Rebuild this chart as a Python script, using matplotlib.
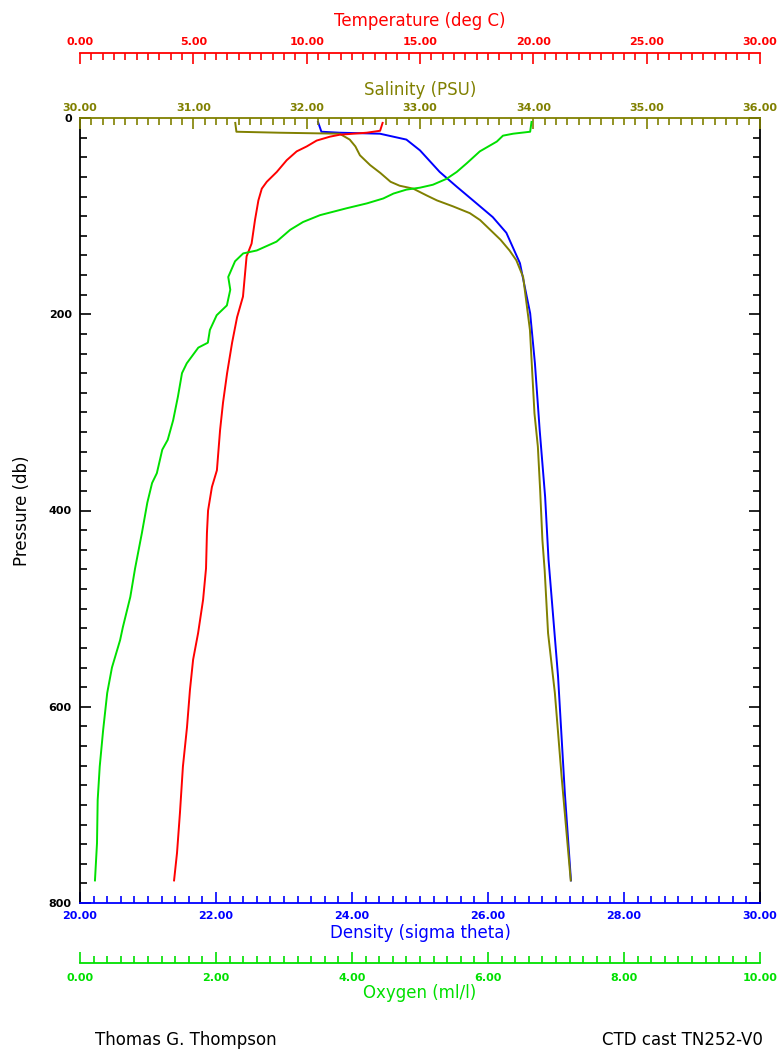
import matplotlib
matplotlib.use("Agg")
import matplotlib.pyplot as plt
from matplotlib.ticker import MultipleLocator, FormatStrFormatter

# Couleurs des traces
ROUGE = "#ff0000"
OLIVE = "#808000"
BLEU = "#0000ff"
VERT = "#00e000"

# ---------------------------------------------------------------
# Donnees lues sur le profil CTD (pression en db)
# ---------------------------------------------------------------
p_temp = [5, 13, 15, 17, 19, 23, 29, 34, 43, 55, 65, 72, 84, 104, 128, 141,
          182, 203, 229, 260, 290, 318, 359, 376, 400, 423, 459, 491, 525,
          552, 583, 621, 661, 708, 749, 777]
temperature = [13.35, 13.24, 12.65, 11.47, 11.03, 10.44, 10.0, 9.56, 9.12, 8.68,
               8.24, 8.02, 7.87, 7.72, 7.57, 7.35, 7.19, 6.93, 6.71, 6.49, 6.31,
               6.18, 6.04, 5.82, 5.65, 5.60, 5.56, 5.43, 5.21, 4.99, 4.85, 4.72,
               4.54, 4.41, 4.28, 4.15]

p_sal = [5, 14, 15, 16, 18, 22, 29, 38, 48, 56, 65, 69, 72, 79, 84, 90, 97,
         104, 114, 124, 135, 145, 162, 216, 301, 335, 379, 430, 461, 525, 586,
         672, 777]
salinite = [31.37, 31.38, 31.76, 32.29, 32.32, 32.38, 32.43, 32.47, 32.56, 32.65,
            32.74, 32.82, 32.94, 33.06, 33.15, 33.29, 33.44, 33.53, 33.62, 33.71,
            33.79, 33.85, 33.91, 33.97, 34.01, 34.04, 34.06, 34.08, 34.10, 34.13,
            34.19, 34.25, 34.33]

p_dens = [4, 14, 15, 16, 22, 33, 55, 70, 84, 101, 117, 148, 199, 250, 318,
          386, 450, 569, 688, 777]
densite = [23.50, 23.55, 23.82, 24.41, 24.80, 25.00, 25.29, 25.54, 25.78, 26.07,
           26.27, 26.47, 26.62, 26.69, 26.76, 26.84, 26.89, 27.03, 27.13, 27.22]

p_oxy = [4, 14, 16, 18, 24, 34, 46, 55, 62, 68, 71, 73, 77, 82, 87, 92, 99,
         106, 114, 126, 135, 138, 146, 162, 175, 191, 201, 216, 229, 234, 250,
         260, 284, 308, 328, 338, 362, 372, 392, 423, 459, 488, 519, 532, 560,
         586, 624, 661, 695, 739, 777]
oxygene = [6.64, 6.62, 6.37, 6.22, 6.13, 5.88, 5.69, 5.54, 5.39, 5.19, 5.00,
           4.80, 4.61, 4.46, 4.22, 3.92, 3.53, 3.28, 3.09, 2.89, 2.60, 2.40,
           2.28, 2.18, 2.21, 2.16, 2.01, 1.91, 1.88, 1.74, 1.57, 1.50, 1.44,
           1.37, 1.29, 1.21, 1.13, 1.06, 0.99, 0.91, 0.81, 0.74, 0.63, 0.59,
           0.47, 0.40, 0.34, 0.29, 0.26, 0.25, 0.22]

# ---------------------------------------------------------------
# Mise en page (en pixels de l'image 779 x 1054)
# ---------------------------------------------------------------
W, H = 779, 1054
x_g, x_d = 80, 760
y_haut, y_bas = 118, 903
haut_px = y_bas - y_haut

fig = plt.figure(figsize=(W / 100, H / 100), dpi=100)
ax_d = fig.add_axes([x_g / W, 1 - y_bas / H, (x_d - x_g) / W, haut_px / H])
ax_s = ax_d.twiny()
ax_t = ax_d.twiny()
ax_o = ax_d.twiny()


def frac_y(y_px):
    return (y_bas - y_px) / haut_px


def regler_axe(ax, couleur, lim, maj, mineur, cote, position, pad, titre, y_titre):
    for nom, sp in ax.spines.items():
        sp.set_visible(False)
    sp = ax.spines[cote]
    sp.set_visible(True)
    sp.set_color(couleur)
    sp.set_linewidth(1.3)
    sp.set_position(("axes", position))
    ax.xaxis.set_ticks_position(cote)
    ax.xaxis.set_label_position(cote)
    ax.set_xlim(*lim)
    ax.xaxis.set_major_locator(MultipleLocator(maj))
    ax.xaxis.set_minor_locator(MultipleLocator(mineur))
    ax.xaxis.set_major_formatter(FormatStrFormatter("%.2f"))
    ax.tick_params(axis="x", which="both", direction="in", color=couleur,
                   labelcolor=couleur, width=1.2, pad=pad)
    ax.tick_params(axis="x", which="major", length=8, labelsize=8)
    ax.tick_params(axis="x", which="minor", length=5)
    for lab in ax.get_xticklabels():
        lab.set_fontweight("bold")
    ax.set_xlabel(titre, color=couleur, fontsize=12)
    ax.xaxis.set_label_coords(0.5, frac_y(y_titre))
    ax.xaxis.label.set_verticalalignment("center")
    ax.patch.set_visible(False)


regler_axe(ax_d, BLEU, (20, 30), 2, 0.2, "bottom", 0.0, 6,
           "Density (sigma theta)", 933)
regler_axe(ax_o, VERT, (0, 10), 2, 0.2, "bottom", frac_y(963), 7,
           "Oxygen (ml/l)", 993)
regler_axe(ax_s, OLIVE, (30, 36), 1, 0.1, "top", 1.0, 3.5,
           "Salinity (PSU)", 90)
regler_axe(ax_t, ROUGE, (0, 30), 5, 0.5, "top", frac_y(53), 4,
           "Temperature (deg C)", 21)

# axe de pression (noir) a gauche et a droite
for cote in ["left", "right"]:
    ax_d.spines[cote].set_visible(True)
    ax_d.spines[cote].set_color("black")
    ax_d.spines[cote].set_linewidth(1.3)
ax_d.set_ylim(800, 0)
ax_d.yaxis.set_major_locator(MultipleLocator(200))
ax_d.yaxis.set_minor_locator(MultipleLocator(20))
ax_d.yaxis.set_ticks_position("both")
ax_d.tick_params(axis="y", which="both", direction="in", width=1.2, pad=6,
                 labelsize=8)
ax_d.tick_params(axis="y", which="major", length=8)
ax_d.tick_params(axis="y", which="minor", length=5)
for lab in ax_d.get_yticklabels():
    lab.set_fontweight("bold")
ax_d.set_ylabel("Pressure (db)", fontsize=12)
ax_d.yaxis.set_label_coords((22 - x_g) / (x_d - x_g), 0.5)
ax_d.yaxis.label.set_verticalalignment("center")

# ---------------------------------------------------------------
# Traces
# ---------------------------------------------------------------
ax_o.plot(oxygene, p_oxy, color=VERT, lw=1.4)
ax_t.plot(temperature, p_temp, color=ROUGE, lw=1.4)
ax_s.plot(salinite, p_sal, color=OLIVE, lw=1.4)
ax_d.plot(densite, p_dens, color=BLEU, lw=1.4)
for ax in [ax_s, ax_t, ax_o]:
    ax.set_ylim(800, 0)

fig.text(95 / W, 1 - 1040 / H, "Thomas G. Thompson", fontsize=12,
         ha="left", va="center")
fig.text(763 / W, 1 - 1040 / H, "CTD cast TN252-V0", fontsize=12,
         ha="right", va="center")

fig.savefig("out.png", dpi=100)
